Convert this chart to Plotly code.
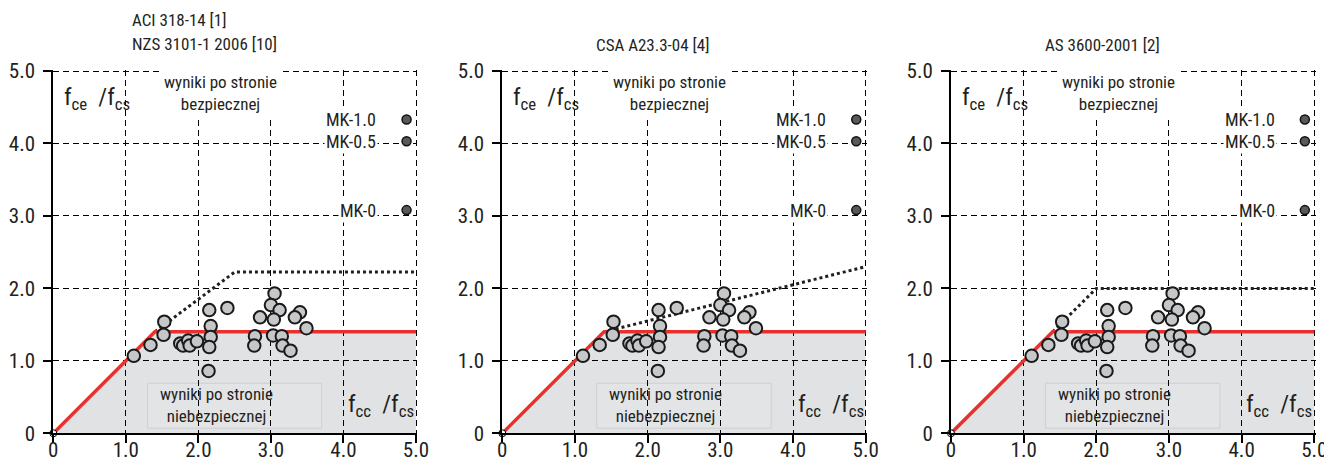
import plotly.graph_objects as go

# ---------------- data ----------------
tick_vals = [0, 1, 2, 3, 4, 5]
tick_text = ["0", "1.0", "2.0", "3.0", "4.0", "5.0"]

# test results: f_cc/f_cs  vs  f_ce/f_cs
pts_x = [1.11, 1.34, 1.53, 1.52, 1.75, 1.79, 1.86, 1.88, 1.98,
         2.15, 2.17, 2.17, 2.15, 2.14, 2.40,
         3.05, 3.00, 3.12, 2.85, 3.04, 3.40, 3.33, 3.49,
         2.78, 2.77, 3.03, 3.15, 3.16, 3.27]
pts_y = [1.07, 1.22, 1.54, 1.36, 1.24, 1.21, 1.28, 1.21, 1.27,
         1.70, 1.48, 1.33, 1.19, 0.86, 1.73,
         1.93, 1.77, 1.70, 1.60, 1.57, 1.67, 1.60, 1.45,
         1.34, 1.21, 1.35, 1.34, 1.21, 1.14]

# common limit (red)
limit_x = [0, 1.4, 5.0]
limit_y = [0, 1.4, 1.4]

# code limits (dotted) per panel
panel_titles = [["ACI 318-14 [1]", "NZS 3101-1 2006 [10]"], ["CSA A23.3-04 [4]"], ["AS 3600-2001 [2]"]]
code_x = [[1.4, 2.5, 5.0], [1.4, 5.0], [1.4, 2.0, 5.0]]
code_y = [[1.4, 2.225, 2.225], [1.4, 2.3], [1.4, 2.0, 2.0]]

# legend markers
legend_labels = ["MK-1.0", "MK-0.5", "MK-0"]
legend_y = [4.33, 4.03, 3.08]
legend_x = [4.87, 4.87, 4.87]

FONT = "Liberation Sans Narrow, Roboto Condensed, Arial Narrow, Liberation Sans, sans-serif"
TXT = "#231f20"

W, H = 1324, 463
x_pix = [(53.3, 416.0), (502.3, 865.7), (951.0, 1314.3)]   # pixel of 0 and 5.0
y_pix = (433.3, 71.0)
EXT = 5.02   # small range extension so gridlines at 5.0 are drawn

fig = go.Figure()
layout = dict(
    width=W, height=H, margin=dict(l=0, r=0, t=0, b=0),
    paper_bgcolor="white", plot_bgcolor="rgba(0,0,0,0)",
    showlegend=False, font=dict(family=FONT, color=TXT),
)
shapes = []
annotations = []

for i in range(3):
    sfx = "" if i == 0 else str(i + 1)
    xa, ya = "x" + sfx, "y" + sfx
    x0p, x5p = x_pix[i]
    sx = (x5p - x0p) / 5.0
    y0p, y5p = y_pix
    sy = (y0p - y5p) / 5.0
    dom_x = [x0p / W, (x0p + EXT * sx) / W]
    dom_y = [(H - y0p) / H, (H - (y0p - EXT * sy)) / H]
    axis_common = dict(
        range=[0, EXT], tickvals=tick_vals, ticktext=tick_text,
        showline=True, linecolor="black", linewidth=2,
        ticks="outside", ticklen=8, tickwidth=2, tickcolor="black",
        showgrid=True, gridcolor="black", gridwidth=1.3, griddash="6px,4px",
        zeroline=False, automargin=False, fixedrange=True, ticklabeloverflow="allow",
        tickfont=dict(family=FONT, size=21, color=TXT),
    )
    layout["xaxis" + sfx] = dict(axis_common, domain=dom_x, anchor=ya, ticklabelstandoff=-12)
    layout["yaxis" + sfx] = dict(axis_common, domain=dom_y, anchor=xa, ticklabelstandoff=4)

    # gray "unsafe" region under the red limit
    path = "M " + " L ".join(f"{a},{b}" for a, b in zip(limit_x, limit_y))
    path += f" L {limit_x[-1]},0 Z"
    shapes.append(dict(type="path", path=path, xref=xa, yref=ya,
                       fillcolor="#e1e2e4", line=dict(width=0), layer="below"))
    # box around lower label
    shapes.append(dict(type="rect", x0=1.3, x1=3.7, y0=0.07, y1=0.69, xref=xa, yref=ya,
                       fillcolor="#e3e4e6", line=dict(color="#cfd0d2", width=1), layer="below"))

    fig.add_trace(go.Scatter(x=code_x[i], y=code_y[i], mode="lines", xaxis=xa, yaxis=ya,
                             line=dict(color="#231f20", width=3, dash="dot"), hoverinfo="skip"))
    fig.add_trace(go.Scatter(x=limit_x, y=limit_y, mode="lines", xaxis=xa, yaxis=ya,
                             line=dict(color="#e8302d", width=3.5), hoverinfo="skip"))
    fig.add_trace(go.Scatter(x=pts_x, y=pts_y, mode="markers", xaxis=xa, yaxis=ya,
                             marker=dict(size=12.5, color="#c6c7c9", line=dict(color="#1a1a1a", width=2)),
                             cliponaxis=False))
    fig.add_trace(go.Scatter(x=[limit_x[0]], y=[limit_y[0]], mode="markers", xaxis=xa, yaxis=ya,
                             marker=dict(size=7, color="white", line=dict(color="black", width=1)),
                             cliponaxis=False))
    fig.add_trace(go.Scatter(x=legend_x, y=legend_y, mode="markers", xaxis=xa, yaxis=ya,
                             marker=dict(size=9, color="#58595b", line=dict(color="#111", width=1.5)),
                             cliponaxis=False))
    for lab, ly in zip(legend_labels, legend_y):
        annotations.append(dict(x=4.48, y=ly, xref=xa, yref=ya, text=lab, showarrow=False,
                                xanchor="right", yanchor="middle", bgcolor="white", borderpad=1,
                                font=dict(family=FONT, size=18, color=TXT)))
    annotations.append(dict(x=2.3, y=4.7, xref=xa, yref=ya, text="wyniki po stronie<br>bezpiecznej",
                            showarrow=False, xanchor="center", yanchor="middle", align="center",
                            bgcolor="white", borderpad=4, font=dict(family=FONT, size=17, color=TXT)))
    annotations.append(dict(x=2.25, y=0.39, xref=xa, yref=ya, text="wyniki po stronie<br>niebezpiecznej",
                            showarrow=False, xanchor="center", yanchor="middle", align="center",
                            font=dict(family=FONT, size=17, color=TXT)))
    annotations.append(dict(x=0.12, y=4.62, xref=xa, yref=ya, text="f<sub>ce</sub>  /f<sub>cs</sub>",
                            showarrow=False, xanchor="left", yanchor="middle",
                            font=dict(family=FONT, size=24, color=TXT)))
    annotations.append(dict(x=4.52, y=0.38, xref=xa, yref=ya, text="f<sub>cc</sub>  /f<sub>cs</sub>",
                            showarrow=False, xanchor="center", yanchor="middle",
                            font=dict(family=FONT, size=24, color=TXT)))

# panel titles
title_font = dict(family=FONT, size=17, color=TXT)
annotations.append(dict(x=130 / W, y=1 - 20 / H, xref="paper", yref="paper", text=panel_titles[0][0],
                        showarrow=False, xanchor="left", yanchor="middle", font=title_font))
annotations.append(dict(x=130 / W, y=1 - 44 / H, xref="paper", yref="paper", text=panel_titles[0][1],
                        showarrow=False, xanchor="left", yanchor="middle", font=title_font))
annotations.append(dict(x=652 / W, y=1 - 45 / H, xref="paper", yref="paper", text=panel_titles[1][0],
                        showarrow=False, xanchor="center", yanchor="middle", font=title_font))
annotations.append(dict(x=1102 / W, y=1 - 45 / H, xref="paper", yref="paper", text=panel_titles[2][0],
                        showarrow=False, xanchor="center", yanchor="middle", font=title_font))

layout["shapes"] = shapes
layout["annotations"] = annotations
fig.update_layout(**layout)
fig.write_html("out.html")
